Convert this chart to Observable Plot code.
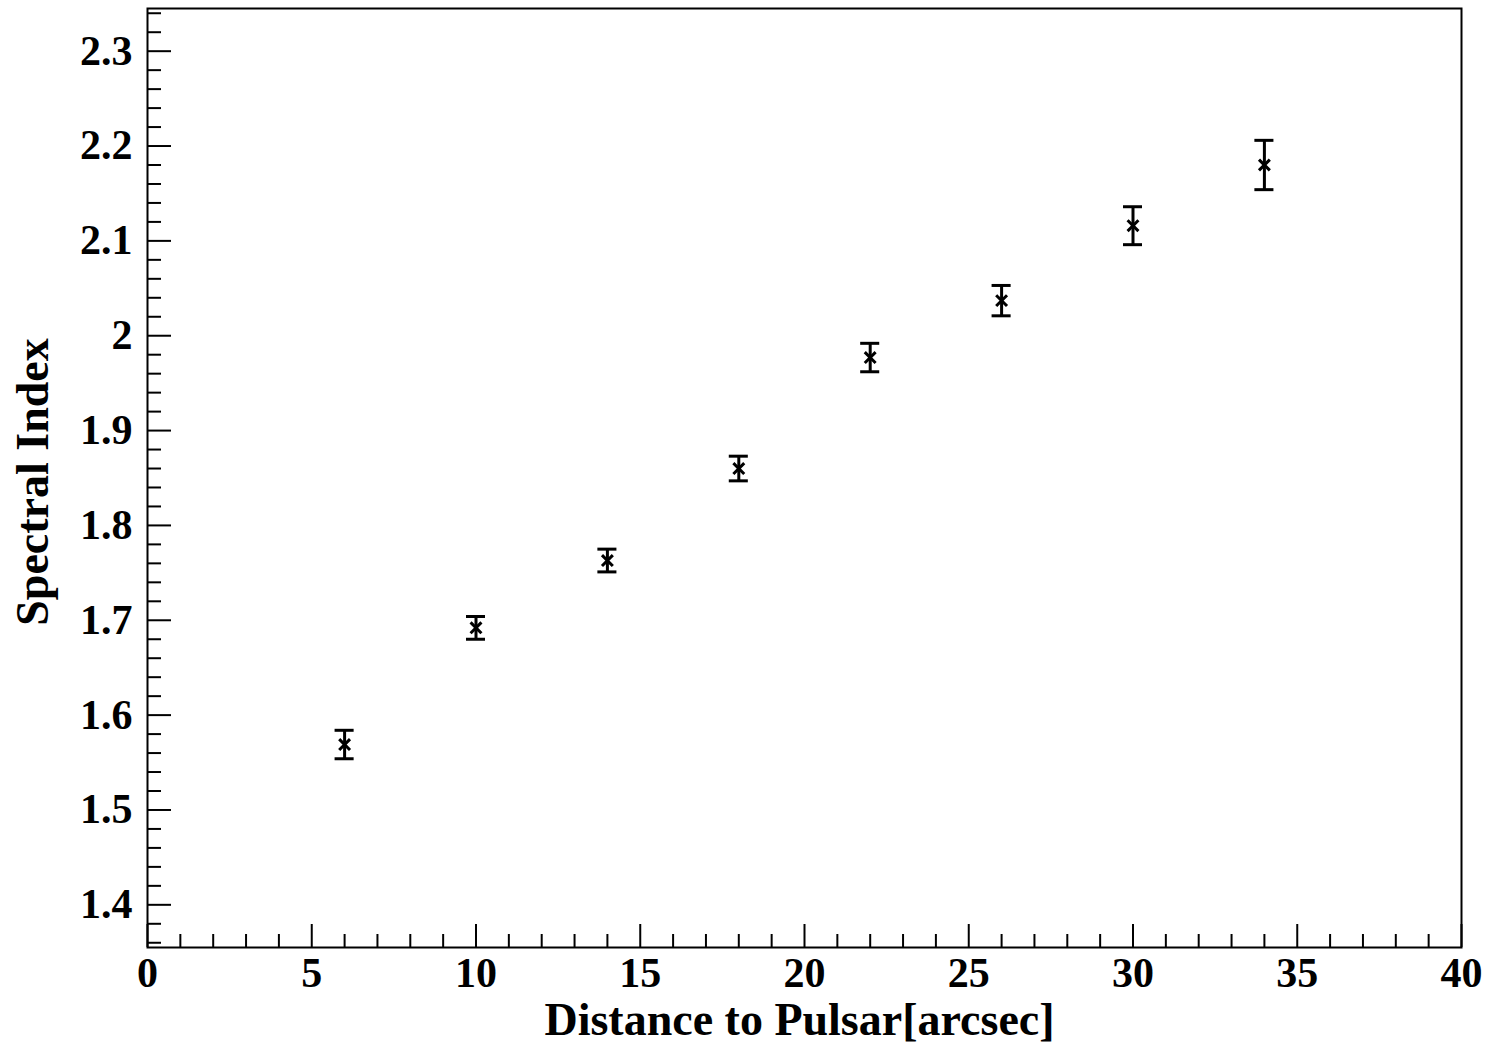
<!DOCTYPE html>
<html>
<head>
<meta charset="utf-8">
<script src="https://cdn.jsdelivr.net/npm/d3@7"></script>
<script src="https://cdn.jsdelivr.net/npm/@observablehq/plot@0.6"></script>
<style>
  html, body { margin: 0; padding: 0; background: #fff; }
</style>
</head>
<body>
<div id="chart"></div>
<script>
// Data
const distance = [6, 10, 14, 18, 22, 26, 30, 34];
const spectralIndex = [1.569, 1.692, 1.763, 1.860, 1.977, 2.037, 2.116, 2.180];
const errorBar = [0.015, 0.012, 0.012, 0.013, 0.015, 0.016, 0.020, 0.026];

const xMajorTicks = [0, 5, 10, 15, 20, 25, 30, 35, 40];
const xMinorTicks = d3.range(0, 41, 1).filter(v => v % 5 !== 0);
const yMajorTicks = [1.4, 1.5, 1.6, 1.7, 1.8, 1.9, 2.0, 2.1, 2.2, 2.3];
const yMinorTicks = d3.range(1.36, 2.345, 0.02).map(v => +v.toFixed(2)).filter(v => Math.abs(v * 10 - Math.round(v * 10)) > 1e-6);

const xLabel = "Distance to Pulsar[arcsec]";
const yLabel = "Spectral Index";

const data = distance.map((x, i) => ({x, y: spectralIndex[i], e: errorBar[i]}));
const capHalf = 0.29;

const font = "'Liberation Serif', 'Times New Roman', serif";

const chart = Plot.plot({
  width: 1490,
  height: 1045,
  marginLeft: 147,
  marginTop: 8,
  marginRight: 29,
  marginBottom: 98,
  style: {fontFamily: font, fontWeight: "bold", fontSize: "42px", color: "#000", background: "#fff"},
  x: {domain: [0, 40]},
  y: {domain: [1.355, 2.345]},
  marks: [
    Plot.frame({stroke: "#000", strokeWidth: 2}),
    // tick marks (inward)
    Plot.axisX({ticks: xMajorTicks, tickSize: -23, text: null, label: null, strokeWidth: 2, stroke: "#000"}),
    Plot.axisX({ticks: xMinorTicks, tickSize: -13, text: null, label: null, strokeWidth: 2, stroke: "#000"}),
    Plot.axisY({ticks: yMajorTicks, tickSize: -24, text: null, label: null, strokeWidth: 2, stroke: "#000"}),
    Plot.axisY({ticks: yMinorTicks, tickSize: -14, text: null, label: null, strokeWidth: 2, stroke: "#000"}),
    // tick labels
    Plot.axisX({ticks: xMajorTicks, tickSize: 0, tickPadding: 10, tickFormat: d => String(d), fill: "#000", label: null}),
    Plot.axisY({ticks: yMajorTicks, tickSize: 0, tickPadding: 15, tickFormat: d => String(+d.toFixed(1)), fill: "#000", label: null}),
    // axis titles
    Plot.text([xLabel], {frameAnchor: "bottom", text: d => d, dy: 87, dx: -5, lineAnchor: "bottom", textAnchor: "middle", fontSize: 46, fill: "#000"}),
    Plot.text([yLabel], {frameAnchor: "left", text: d => d, rotate: -90, dx: -100, dy: 4, lineAnchor: "bottom", textAnchor: "middle", fontSize: 46, fill: "#000"}),
    // error bars
    Plot.ruleX(data, {x: "x", y1: d => d.y - d.e, y2: d => d.y + d.e, stroke: "#000", strokeWidth: 3}),
    Plot.ruleY(data, {y: d => d.y + d.e, x1: d => d.x - capHalf, x2: d => d.x + capHalf, stroke: "#000", strokeWidth: 3}),
    Plot.ruleY(data, {y: d => d.y - d.e, x1: d => d.x - capHalf, x2: d => d.x + capHalf, stroke: "#000", strokeWidth: 3}),
    Plot.dot(data, {x: "x", y: "y", symbol: "times", r: 5, stroke: "#000", strokeWidth: 3})
  ]
});
document.getElementById("chart").appendChild(chart);
</script>
</body>
</html>
